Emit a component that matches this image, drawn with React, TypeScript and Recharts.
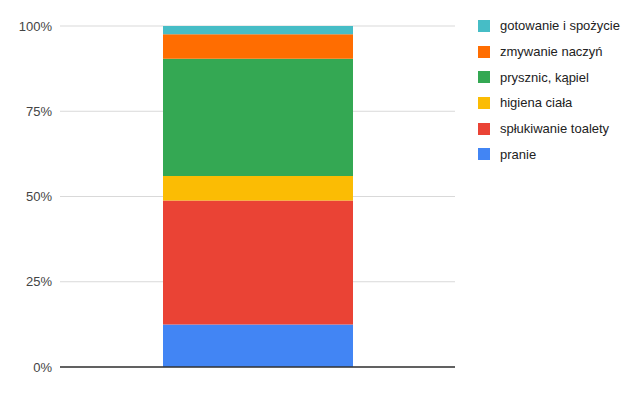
import React from "react"
import { BarChart, Bar, XAxis, YAxis, CartesianGrid, Legend, ReferenceLine } from "recharts"

const categories = ["zużycie wody"]
const seriesNames = [
  "pranie",
  "spłukiwanie toalety",
  "higiena ciała",
  "prysznic, kąpiel",
  "zmywanie naczyń",
  "gotowanie i spożycie",
]
const seriesKeys = ["pranie", "toaleta", "higiena", "prysznic", "zmywanie", "gotowanie"]
const seriesValues = [12.5, 36.3, 7.2, 34.4, 7.2, 2.4]
const seriesColors = ["#4285f4", "#ea4335", "#fbbc04", "#34a853", "#ff6d01", "#46bdc6"]
const yTicks = [0, 0.25, 0.5, 0.75, 1]

const data = categories.map((name) => {
  const row: Record<string, any> = { name }
  seriesKeys.forEach((k, i) => {
    row[k] = seriesValues[i]
  })
  return row
})

const font = "Arial, 'Liberation Sans', sans-serif"

function LegendBox() {
  const items = seriesNames.map((n, i) => ({ name: n, color: seriesColors[i] })).reverse()
  return (
    <div
      style={{
        position: "absolute",
        left: 478,
        top: 13,
        width: 160,
        whiteSpace: "nowrap",
        fontFamily: font,
        fontSize: 13,
        color: "#222",
      }}
    >
      {items.map((it) => (
        <div key={it.name} style={{ display: "flex", alignItems: "center", height: 25.7 }}>
          <span style={{ width: 12, height: 12, background: it.color, display: "inline-block", marginRight: 10, flexShrink: 0 }} />
          <span>{it.name}</span>
        </div>
      ))}
    </div>
  )
}

export default function App() {
  return (
    <div style={{ position: "absolute", left: 0, top: 0, width: 640, height: 395, background: "#fff" }}>
      <BarChart
        width={640}
        height={395}
        data={data}
        stackOffset="expand"
        margin={{ top: 26, right: 185, bottom: 28, left: 0 }}
      >
        <CartesianGrid vertical={false} stroke="#d9d9d9" />
        <XAxis dataKey="name" tick={false} tickLine={false} height={0} axisLine={false} />
        <YAxis
          width={60}
          domain={[0, 1]}
          ticks={yTicks}
          tickFormatter={(v: number) => `${Math.round(v * 100)}%`}
          tickLine={false}
          axisLine={false}
          tick={{ fill: "#444", fontSize: 13, fontFamily: font }}
        />
        <Legend content={() => <LegendBox />} wrapperStyle={{ position: "absolute", left: 0, top: 0, width: 0, height: 0 }} />
        {seriesKeys.map((k, i) => (
          <Bar key={k} dataKey={k} name={seriesNames[i]} stackId="a" fill={seriesColors[i]} barSize={190} isAnimationActive={false} />
        ))}
        <ReferenceLine y={0} stroke="#333" strokeWidth={1.5} />
      </BarChart>
    </div>
  )
}
